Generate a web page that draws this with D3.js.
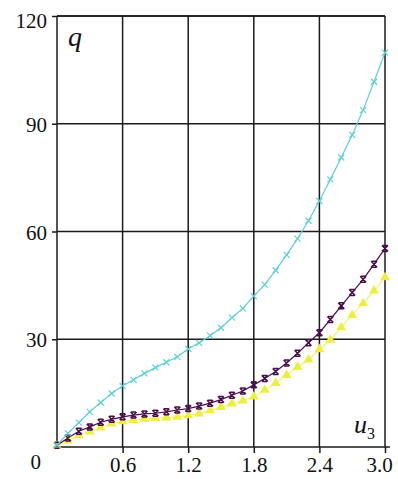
<!DOCTYPE html>
<html>
<head>
<meta charset="utf-8">
<script src="https://cdn.jsdelivr.net/npm/d3@7"></script>
<style>
  html, body { margin: 0; padding: 0; background: #fff; }
  svg { display: block; }
</style>
</head>
<body>
<svg id="chart" width="398" height="479" font-family="Liberation Serif"></svg>
<script>
// ---- data ----
const u3 = [0,0.1,0.2,0.3,0.4,0.5,0.6,0.7,0.8,0.9,1.0,1.1,1.2,1.3,1.4,1.5,1.6,1.7,1.8,1.9,2.0,2.1,2.2,2.3,2.4,2.5,2.6,2.7,2.8,2.9,3.0];
const qCyan = [0.5,3.8,6.8,9.8,12.4,14.9,17.0,18.7,20.5,22.1,23.6,25.1,27.3,29.0,31.0,33.2,36.0,38.6,42.0,45.2,49.2,53.5,58.0,63.0,68.5,74.5,80.6,86.9,93.8,101.7,109.8];
const qPurple = [0.5,2.5,4.4,5.6,6.9,7.7,8.4,8.9,9.2,9.4,9.8,10.3,10.7,11.4,12.2,13.2,14.4,15.6,17.3,19.1,21.0,23.4,26.1,29.0,31.8,35.5,39.3,43.0,46.7,50.9,55.3];
const qYellow = [0.3,1.8,3.2,4.3,5.4,6.5,7.1,7.5,7.8,8.0,8.2,8.4,8.8,9.3,10.2,11.1,12.1,12.9,14.0,15.9,17.8,20.0,22.3,24.3,27.2,29.8,33.3,36.7,40.0,43.5,47.2];
const xTicks = [0.6,1.2,1.8,2.4,3.0];
const yTicks = [0,30,60,90,120];

// ---- layout ----
const FONT = "Liberation Serif";
const FS = 21;
const svg = d3.select("#chart");
const L = 57, R = 385, T = 16, B = 447;
const x = d3.scaleLinear().domain([0,3]).range([L,R]);
const y = d3.scaleLinear().domain([0,120]).range([B,T]);
const gridColor = "#1a1a1a";

// grid
svg.append("g").selectAll("line").data(xTicks).join("line")
  .attr("x1", d => x(d)).attr("x2", d => x(d))
  .attr("y1", T).attr("y2", B)
  .attr("stroke", gridColor).attr("stroke-width", 1.5);
svg.append("g").selectAll("line").data(yTicks.filter(d => d > 0)).join("line")
  .attr("x1", L).attr("x2", R)
  .attr("y1", d => y(d)).attr("y2", d => y(d))
  .attr("stroke", gridColor).attr("stroke-width", 1.5);

// axes
const xAxis = svg.append("g").attr("transform", `translate(0,${B})`)
  .call(d3.axisBottom(x).tickValues(xTicks).tickSize(6).tickPadding(4).tickFormat(d3.format(".1f")));
const yAxis = svg.append("g").attr("transform", `translate(${L},0)`)
  .call(d3.axisLeft(y).tickValues(yTicks).tickSize(5).tickPadding(5).tickFormat(d3.format("d")));
[xAxis, yAxis].forEach(g => {
  g.attr("font-family", FONT).attr("font-size", FS);
  g.selectAll("line").attr("stroke", gridColor).attr("stroke-width", 1.5);
  g.selectAll("text").attr("fill", "#111").attr("font-family", FONT).attr("font-size", FS);
});
xAxis.select(".domain").remove();
yAxis.select(".domain").remove();
xAxis.selectAll(".tick").filter(d => d === 3.0).select("text").attr("dx", "-6");
yAxis.selectAll(".tick text").attr("dy", "0.36em");
yAxis.selectAll(".tick").filter(d => d === 120).select("text").attr("dy", "0.55em");
yAxis.selectAll(".tick").filter(d => d === 0).select("text").attr("dy", "1.0em").attr("dx", "-6");
yAxis.selectAll(".tick").filter(d => d === 0).select("line").remove();
// axis lines
svg.append("line").attr("x1", L).attr("x2", R + 5).attr("y1", B).attr("y2", B)
  .attr("stroke", gridColor).attr("stroke-width", 1.5);
svg.append("line").attr("x1", L).attr("x2", L).attr("y1", T).attr("y2", B)
  .attr("stroke", gridColor).attr("stroke-width", 1.5);
svg.append("line").attr("x1", L).attr("x2", R).attr("y1", T).attr("y2", T)
  .attr("stroke", gridColor).attr("stroke-width", 1.5);

// series
const line = d3.line().x(d => x(d[0])).y(d => y(d[1]));
function pts(arr) { return u3.map((u, i) => [u, arr[i]]); }

// yellow
const yel = pts(qYellow);
svg.append("path").datum(yel).attr("d", line).attr("fill", "none")
  .attr("stroke", "#f2f27a").attr("stroke-width", 1.2);
svg.append("g").selectAll("path").data(yel).join("path")
  .attr("transform", d => `translate(${x(d[0])},${y(d[1])})`)
  .attr("d", d3.symbol(d3.symbolTriangle, 42))
  .attr("fill", "#eeee3c");

// purple
const pur = pts(qPurple);
svg.append("path").datum(pur).attr("d", line).attr("fill", "none")
  .attr("stroke", "#4a0d4c").attr("stroke-width", 1.2);
svg.append("g").selectAll("path").data(pur).join("path")
  .attr("transform", d => `translate(${x(d[0])},${y(d[1])})`)
  .attr("d", "M-3,-3L3,3M-3,3L3,-3M-2.5,-3L2.5,-3M-2.5,3L2.5,3")
  .attr("stroke", "#4a0d4c").attr("stroke-width", 1.5).attr("fill", "none");

// cyan
const cy = pts(qCyan);
svg.append("path").datum(cy).attr("d", line).attr("fill", "none")
  .attr("stroke", "#5ccfd9").attr("stroke-width", 1.2);
svg.append("g").selectAll("path").data(cy).join("path")
  .attr("transform", d => `translate(${x(d[0])},${y(d[1])})`)
  .attr("d", "M-3,-3L3,3M-3,3L3,-3")
  .attr("stroke", "#5ccfd9").attr("stroke-width", 1.2).attr("fill", "none");

// labels
svg.append("text").attr("x", 68).attr("y", 46).attr("font-family", FONT)
  .attr("font-style", "italic").attr("font-size", 28).attr("fill", "#111").text("q");
const ul = svg.append("text").attr("x", 354).attr("y", 433).attr("font-family", FONT)
  .attr("font-style", "italic").attr("font-size", 26).attr("fill", "#111");
ul.append("tspan").text("u");
ul.append("tspan").attr("dy", 6).attr("font-size", 16).attr("font-style", "normal").text("3");
</script>
</body>
</html>
